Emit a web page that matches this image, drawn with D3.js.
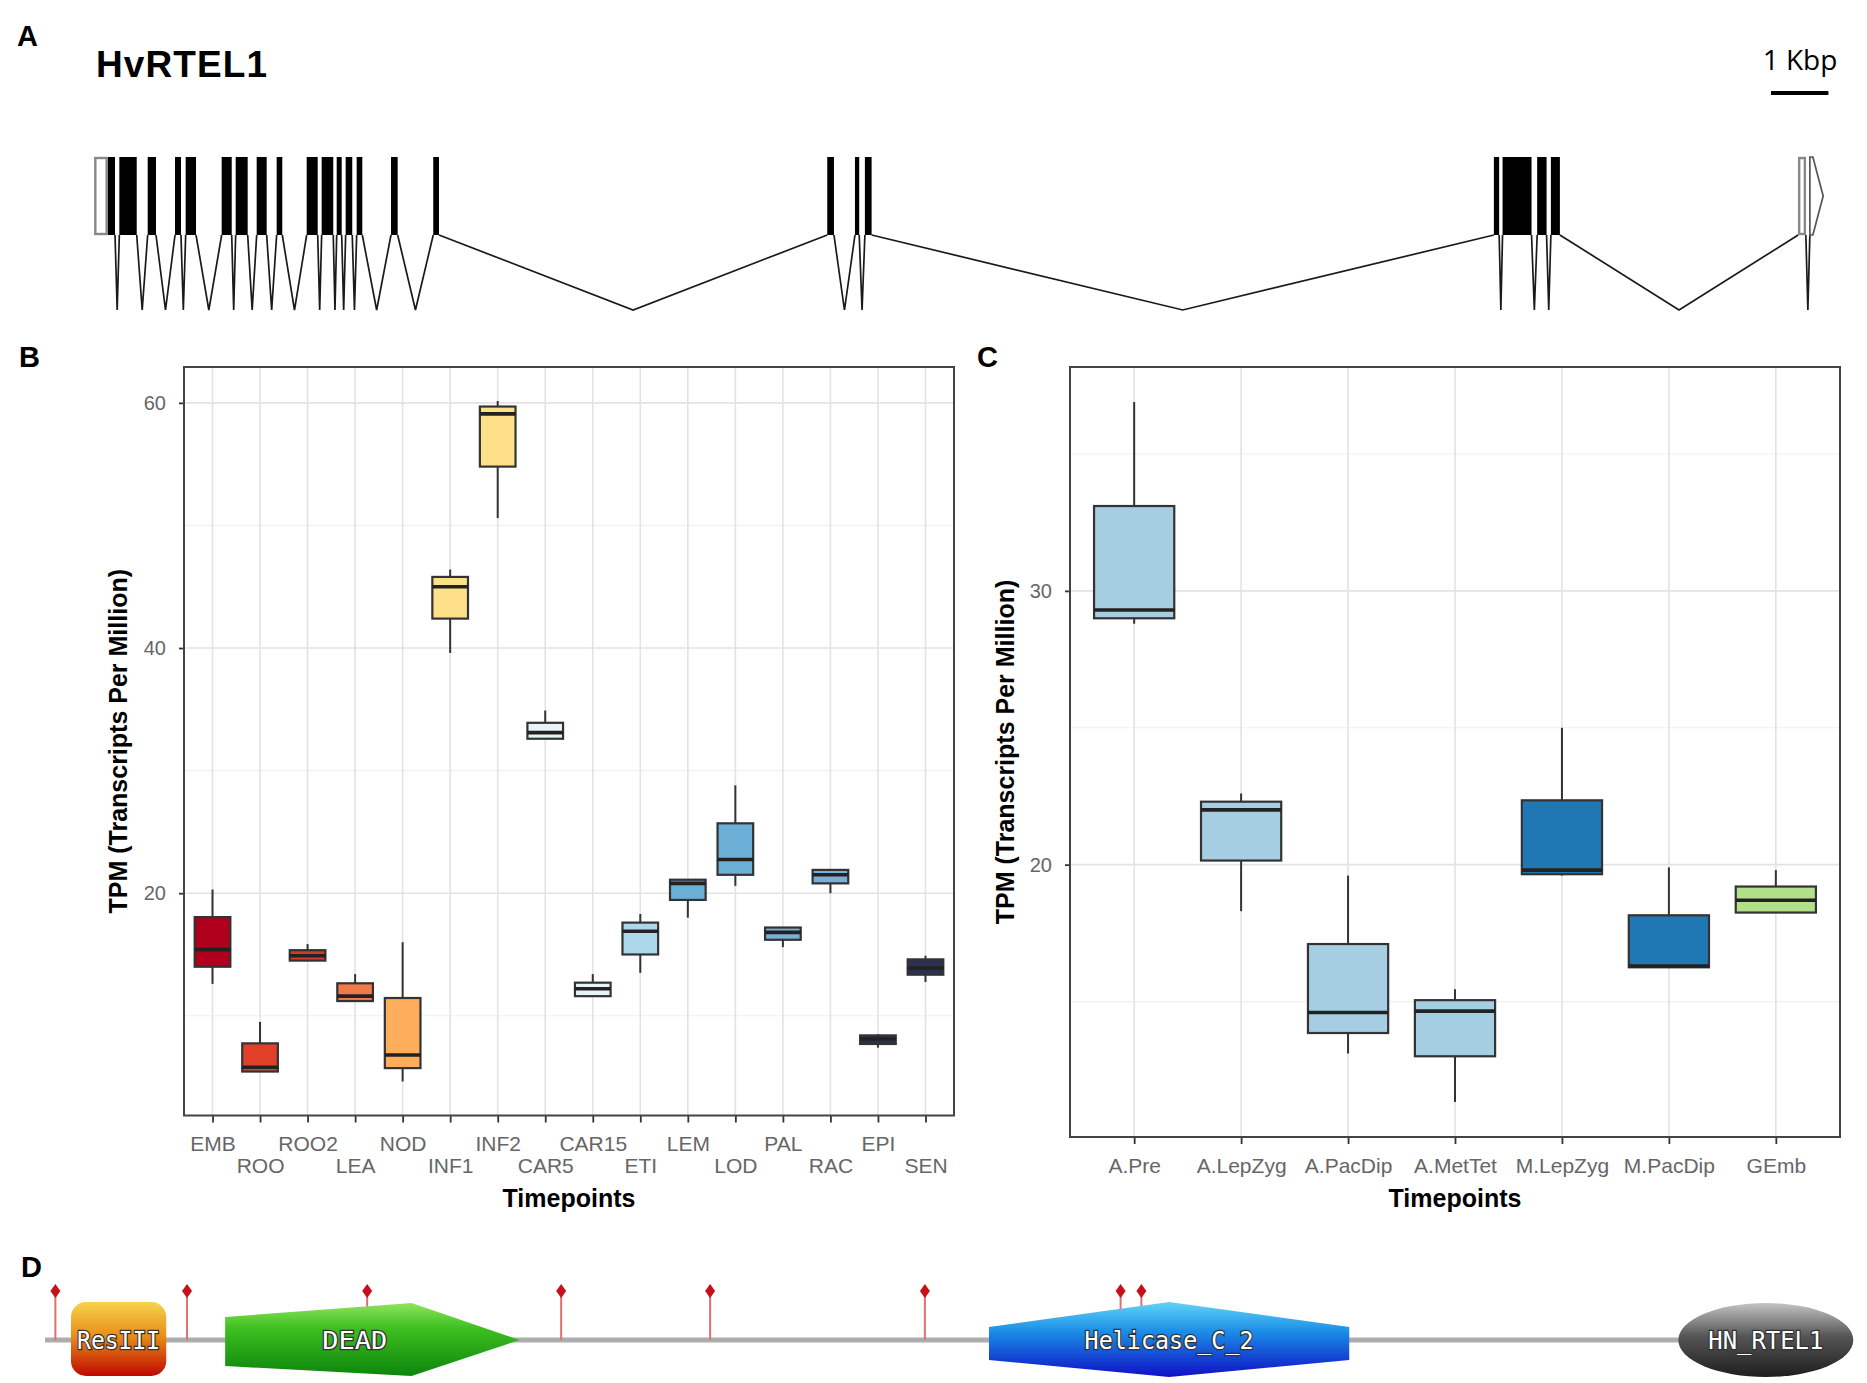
<!DOCTYPE html>
<html>
<head>
<meta charset="utf-8">
<script src="https://cdn.jsdelivr.net/npm/d3@7"></script>
<style>
body { margin: 0; background: #fff; }
</style>
</head>
<body>
<div id="fig"></div>
<script>
// ---------- data ----------
// A: gene model (bp from transcript start)
var cdsStart = [233, 436, 930, 1406, 1592, 2219, 2463, 2829, 3177, 3700, 3961, 4223, 4379, 4571, 5169, 5905, 12769, 13252, 13425, 24383, 24534, 25137, 25376];
var cdsEnd   = [361, 739, 1075, 1510, 1772, 2394, 2672, 3003, 3275, 3892, 4163, 4310, 4494, 4669, 5285, 6005, 12886, 13326, 13542, 24475, 25039, 25301, 25533];
var utr5 = [0, 233];
var utr3box = [29684, 29818];
var utr3arrow = [29888, 30120];

// B: tissues
var tissues = ['EMB', 'ROO', 'ROO2', 'LEA', 'NOD', 'INF1', 'INF2', 'CAR5', 'CAR15', 'ETI', 'LEM', 'LOD', 'PAL', 'RAC', 'EPI', 'SEN'];
var tisLo  = [12.6, 5.45, 14.5, 11.2, 4.64, 39.6, 50.6, 32.6, 11.6, 13.5, 18.0, 20.6, 15.6, 20.0, 7.4, 12.75];
var tisQ1  = [14.0, 5.45, 14.5, 11.2, 5.73, 42.4, 54.8, 32.6, 11.6, 15.0, 19.45, 21.5, 16.2, 20.8, 7.7, 13.35];
var tisMed = [15.4, 5.8, 14.9, 11.6, 6.8, 45.0, 59.1, 33.1, 12.2, 16.9, 20.8, 22.75, 16.8, 21.5, 8.1, 13.9];
var tisQ3  = [18.05, 7.75, 15.35, 12.65, 11.45, 45.8, 59.7, 33.9, 12.7, 17.6, 21.1, 25.7, 17.2, 21.9, 8.4, 14.6];
var tisHi  = [20.3, 9.5, 15.85, 13.4, 16.0, 46.4, 60.15, 34.9, 13.4, 18.3, 21.1, 28.8, 17.2, 21.9, 8.5, 14.9];
var tisColor = ['#b0001e', '#e2402a', '#cf3a2c', '#f07a4a', '#fdad5c', '#fee08b', '#fee08b', '#e6f3f7', '#e6f3f7', '#add8ec', '#6baed6', '#6baed6', '#78b0d8', '#78b0d8', '#2c3150', '#2c3150'];

// C: meiosis stages
var stages = ['A.Pre', 'A.LepZyg', 'A.PacDip', 'A.MetTet', 'M.LepZyg', 'M.PacDip', 'GEmb'];
var stLo  = [28.8, 18.3, 13.1, 11.33, 19.6, 16.25, 18.25];
var stQ1  = [29.0, 20.15, 13.85, 13.0, 19.65, 16.25, 18.25];
var stMed = [29.3, 22.0, 14.6, 14.65, 19.8, 16.3, 18.7];
var stQ3  = [33.1, 22.3, 17.1, 15.05, 22.35, 18.15, 19.2];
var stHi  = [36.9, 22.6, 19.6, 15.45, 25.0, 19.9, 19.8];
var stColor = ['#a6cee3', '#a6cee3', '#a6cee3', '#a6cee3', '#1f78b4', '#1f78b4', '#b2df8a'];

// D: protein domains (aa)
var protLen = 1045;
var domName  = ['ResIII', 'DEAD', 'Helicase_C_2', 'HN_RTEL1'];
var domStart = [15, 104, 545, 943];
var domEnd   = [70, 274, 753, 1044];
var sites = [6, 82, 186, 298, 384, 508, 621, 633];

var SANS = '"Liberation Sans", Arial, sans-serif';

// ---------- svg ----------
var W = 1867, H = 1383;
var svg = d3.select('#fig').append('svg')
    .attr('width', W)
    .attr('height', H)
    .style('font-family', SANS);

svg.append('rect').attr('width', W).attr('height', H).attr('fill', '#fff');

// panel letters
[['A', 17, 46], ['B', 19, 367], ['C', 977, 367], ['D', 21, 1277]].forEach(function(p) {
    svg.append('text').text(p[0])
        .attr('x', p[1]).attr('y', p[2])
        .attr('font-size', 29).attr('font-weight', 'bold');
});

// ---------- A: gene structure ----------
var gx = d3.scaleLinear().domain([0, 1000]).range([94.3, 94.3 + 57.4]);
var exTop = 157, exBot = 235, valley = 310;
var gA = svg.append('g');

gA.append('text').text('HvRTEL1')
    .attr('x', 96).attr('y', 77)
    .attr('font-size', 37).attr('font-weight', 'bold')
    .attr('textLength', 171);

gA.append('text').text('1 Kbp')
    .attr('x', 1800).attr('y', 70)
    .attr('text-anchor', 'middle')
    .style('font-family', '"Open Sans", sans-serif')
    .attr('font-size', 28);
gA.append('line')
    .attr('x1', 1771).attr('x2', 1771 + gx(1000) - gx(0))
    .attr('y1', 93).attr('y2', 93)
    .attr('stroke', '#000').attr('stroke-width', 4);

// all features in order, introns between them
var feats = [utr5].concat(cdsStart.map(function(s, i) { return [s, cdsEnd[i]]; }), [utr3box, utr3arrow]);
var introns = [];
for (var i = 1; i < feats.length; i++) {
    if (feats[i][0] > feats[i - 1][1]) introns.push([feats[i - 1][1], feats[i][0]]);
}
gA.selectAll('.intron').data(introns).enter().append('polyline')
    .attr('points', function(d) {
        return [[gx(d[0]), exBot], [gx((d[0] + d[1]) / 2), valley], [gx(d[1]), exBot]].join(' ');
    })
    .attr('fill', 'none').attr('stroke', '#1a1a1a').attr('stroke-width', 1.7);

gA.selectAll('.cds').data(cdsStart).enter().append('rect')
    .attr('x', function(d) { return gx(d); })
    .attr('width', function(d, i) { return gx(cdsEnd[i]) - gx(d); })
    .attr('y', exTop).attr('height', exBot - exTop)
    .attr('fill', '#000');

[utr5, utr3box].forEach(function(u) {
    gA.append('rect')
        .attr('x', gx(u[0]) + 1).attr('width', gx(u[1]) - gx(u[0]) - 2)
        .attr('y', exTop + 1).attr('height', exBot - exTop - 2)
        .attr('fill', '#fff').attr('stroke', '#888').attr('stroke-width', 2.4);
});
gA.append('polygon')
    .attr('points', [[gx(utr3arrow[0]), exTop], [gx(utr3arrow[0]) + 3, exTop],
        [gx(utr3arrow[1]), (exTop + exBot) / 2], [gx(utr3arrow[0]) + 3, exBot], [gx(utr3arrow[0]), exBot]].join(' '))
    .attr('fill', '#fff').attr('stroke', '#555').attr('stroke-width', 1.7);

// ---------- B / C: box plots ----------
function boxPanel(cfg) {
    var g = svg.append('g');
    var x = d3.scalePoint().domain(cfg.cats).range([cfg.left, cfg.right]).padding(0.6);
    var lo = d3.min(cfg.lo), hi = d3.max(cfg.hi), pad = (hi - lo) * 0.05;
    var y = d3.scaleLinear().domain([lo - pad, hi + pad]).range([cfg.bottom, cfg.top]);
    var bw = x.step() * 0.75;

    g.append('rect')
        .attr('x', cfg.left).attr('y', cfg.top)
        .attr('width', cfg.right - cfg.left).attr('height', cfg.bottom - cfg.top)
        .attr('fill', '#fff');

    // grid
    g.selectAll('.minor').data(cfg.minor).enter().append('line')
        .attr('x1', cfg.left).attr('x2', cfg.right)
        .attr('y1', function(d) { return y(d); }).attr('y2', function(d) { return y(d); })
        .attr('stroke', '#efefef').attr('stroke-width', 1.2);
    g.selectAll('.major').data(cfg.major).enter().append('line')
        .attr('x1', cfg.left).attr('x2', cfg.right)
        .attr('y1', function(d) { return y(d); }).attr('y2', function(d) { return y(d); })
        .attr('stroke', '#e3e3e3').attr('stroke-width', 1.6);
    g.selectAll('.vgrid').data(cfg.cats).enter().append('line')
        .attr('x1', function(d) { return x(d); }).attr('x2', function(d) { return x(d); })
        .attr('y1', cfg.top).attr('y2', cfg.bottom)
        .attr('stroke', '#e3e3e3').attr('stroke-width', 1.6);

    // axes
    var ax = g.append('g')
        .attr('transform', 'translate(0,' + cfg.bottom + ')')
        .call(d3.axisBottom(x).tickSize(7).tickSizeOuter(0));
    ax.select('.domain').remove();
    ax.selectAll('line').attr('stroke', '#333').attr('stroke-width', 1.8);
    ax.selectAll('text')
        .attr('y', function(d, i) { return cfg.twoRow && i % 2 ? cfg.row2 : cfg.row1; })
        .attr('dy', 0)
        .attr('fill', '#666')
        .style('font-size', '21px')
        .style('font-family', SANS);

    var ay = g.append('g')
        .attr('transform', 'translate(' + cfg.left + ',0)')
        .call(d3.axisLeft(y).tickValues(cfg.major).tickSize(5).tickPadding(13));
    ay.select('.domain').remove();
    ay.selectAll('line').attr('stroke', '#333').attr('stroke-width', 1.8);
    ay.selectAll('text')
        .attr('fill', '#666')
        .style('font-size', '20px')
        .style('font-family', SANS);

    // titles
    g.append('text').text('Timepoints')
        .attr('x', (cfg.left + cfg.right) / 2).attr('y', 1207)
        .attr('text-anchor', 'middle')
        .attr('font-size', 25).attr('font-weight', 'bold');
    g.append('text').text('TPM (Transcripts Per Million)')
        .attr('transform', 'translate(' + cfg.titleX + ',' + (cfg.top + cfg.bottom) / 2 + ') rotate(-90)')
        .attr('text-anchor', 'middle')
        .attr('font-size', 25).attr('font-weight', 'bold');

    // boxes
    var b = g.selectAll('.box').data(cfg.cats).enter().append('g');
    b.append('line')
        .attr('x1', function(d) { return x(d); }).attr('x2', function(d) { return x(d); })
        .attr('y1', function(d, i) { return y(cfg.hi[i]); })
        .attr('y2', function(d, i) { return y(cfg.lo[i]); })
        .attr('stroke', '#333').attr('stroke-width', 2);
    b.append('rect')
        .attr('x', function(d) { return x(d) - bw / 2; })
        .attr('width', bw)
        .attr('y', function(d, i) { return y(cfg.q3[i]); })
        .attr('height', function(d, i) { return Math.max(1, y(cfg.q1[i]) - y(cfg.q3[i])); })
        .attr('fill', function(d, i) { return cfg.colors[i]; })
        .attr('stroke', '#333').attr('stroke-width', 2.2);
    b.append('line')
        .attr('x1', function(d) { return x(d) - bw / 2; })
        .attr('x2', function(d) { return x(d) + bw / 2; })
        .attr('y1', function(d, i) { return y(cfg.med[i]); })
        .attr('y2', function(d, i) { return y(cfg.med[i]); })
        .attr('stroke', '#222').attr('stroke-width', 3.6);

    // border
    g.append('rect')
        .attr('x', cfg.left).attr('y', cfg.top)
        .attr('width', cfg.right - cfg.left).attr('height', cfg.bottom - cfg.top)
        .attr('fill', 'none').attr('stroke', '#444').attr('stroke-width', 2);
}

boxPanel({
    cats: tissues, lo: tisLo, q1: tisQ1, med: tisMed, q3: tisQ3, hi: tisHi, colors: tisColor,
    left: 184, right: 954, top: 367, bottom: 1115.5,
    major: [20, 40, 60], minor: [10, 30, 50],
    twoRow: true, row1: 35.5, row2: 57.5, titleX: 127
});

boxPanel({
    cats: stages, lo: stLo, q1: stQ1, med: stMed, q3: stQ3, hi: stHi, colors: stColor,
    left: 1070, right: 1840, top: 367, bottom: 1137,
    major: [20, 30], minor: [15, 25, 35],
    twoRow: false, row1: 36, row2: 36, titleX: 1014
});

// ---------- D: protein domains ----------
var px = d3.scaleLinear().domain([0, protLen]).range([45, 1855]);
var gD = svg.append('g');
var defs = svg.append('defs');
var grads = [
    ['gRes', [['0', '#f7d34c'], ['0.45', '#e8901a'], ['1', '#c00800']]],
    ['gDead', [['0', '#8fe45c'], ['0.35', '#3dbf20'], ['1', '#0d850d']]],
    ['gHel', [['0', '#63d4f7'], ['0.4', '#1a8ce6'], ['1', '#1010c6']]],
    ['gHn', [['0', '#c4c4c4'], ['0.45', '#555'], ['1', '#1e1e1e']]]
];
grads.forEach(function(gr) {
    var lg = defs.append('linearGradient').attr('id', gr[0])
        .attr('x1', 0).attr('y1', 0).attr('x2', 0).attr('y2', 1);
    gr[1].forEach(function(s) { lg.append('stop').attr('offset', s[0]).attr('stop-color', s[1]); });
});

var midY = 1340;
gD.append('line')
    .attr('x1', px(0)).attr('x2', px(protLen) - 6)
    .attr('y1', midY).attr('y2', midY)
    .attr('stroke', '#adadad').attr('stroke-width', 5);

gD.selectAll('.stem').data(sites).enter().append('line')
    .attr('x1', function(d) { return px(d); }).attr('x2', function(d) { return px(d); })
    .attr('y1', midY).attr('y2', 1293)
    .attr('stroke', '#e07070').attr('stroke-width', 2);
gD.selectAll('.head').data(sites).enter().append('path')
    .attr('d', function(d) {
        var cx = px(d), cy = 1291;
        return 'M' + cx + ',' + (cy - 7) + 'L' + (cx + 5) + ',' + cy + 'L' + cx + ',' + (cy + 7) + 'L' + (cx - 5) + ',' + cy + 'Z';
    })
    .attr('fill', '#c8101a');

// ResIII
var r0 = px(domStart[0]), r1 = px(domEnd[0]);
gD.append('rect')
    .attr('x', r0).attr('y', 1302).attr('width', r1 - r0).attr('height', 74)
    .attr('rx', 15).attr('fill', 'url(#gRes)');
// DEAD
var d0 = px(domStart[1]), d1 = px(domEnd[1]), dk = d0 + (d1 - d0) * 0.633;
gD.append('polygon')
    .attr('points', [[d0, 1317], [dk, 1303], [d1, midY], [dk, 1376], [d0, 1366]].join(' '))
    .attr('fill', 'url(#gDead)');
// Helicase_C_2
var h0 = px(domStart[2]), h1 = px(domEnd[2]), hm = (h0 + h1) / 2;
gD.append('polygon')
    .attr('points', [[h0, 1327], [hm, 1302], [h1, 1327], [h1, 1360], [hm, 1377], [h0, 1360]].join(' '))
    .attr('fill', 'url(#gHel)');
// HN_RTEL1
var n0 = px(domStart[3]), n1 = px(domEnd[3]);
gD.append('ellipse')
    .attr('cx', (n0 + n1) / 2).attr('cy', midY)
    .attr('rx', (n1 - n0) / 2).attr('ry', 37)
    .attr('fill', 'url(#gHn)');

var labW = [83, 65, 169, 115];
gD.selectAll('.dlab').data(domName).enter().append('text')
    .text(function(d) { return d; })
    .attr('x', function(d, i) { return i == 1 ? px(domStart[1]) + (px(domEnd[1]) - px(domStart[1])) * 0.44 : (px(domStart[i]) + px(domEnd[i])) / 2; })
    .attr('y', midY + 9)
    .attr('text-anchor', 'middle')
    .attr('textLength', function(d, i) { return labW[i]; })
    .attr('lengthAdjust', 'spacingAndGlyphs')
    .style('font-family', '"DejaVu Sans Mono", "Liberation Mono", monospace')
    .attr('font-size', 25)
    .attr('fill', '#fff')
    .attr('stroke', '#333').attr('stroke-width', 2.5)
    .attr('paint-order', 'stroke');
</script>
</body>
</html>
